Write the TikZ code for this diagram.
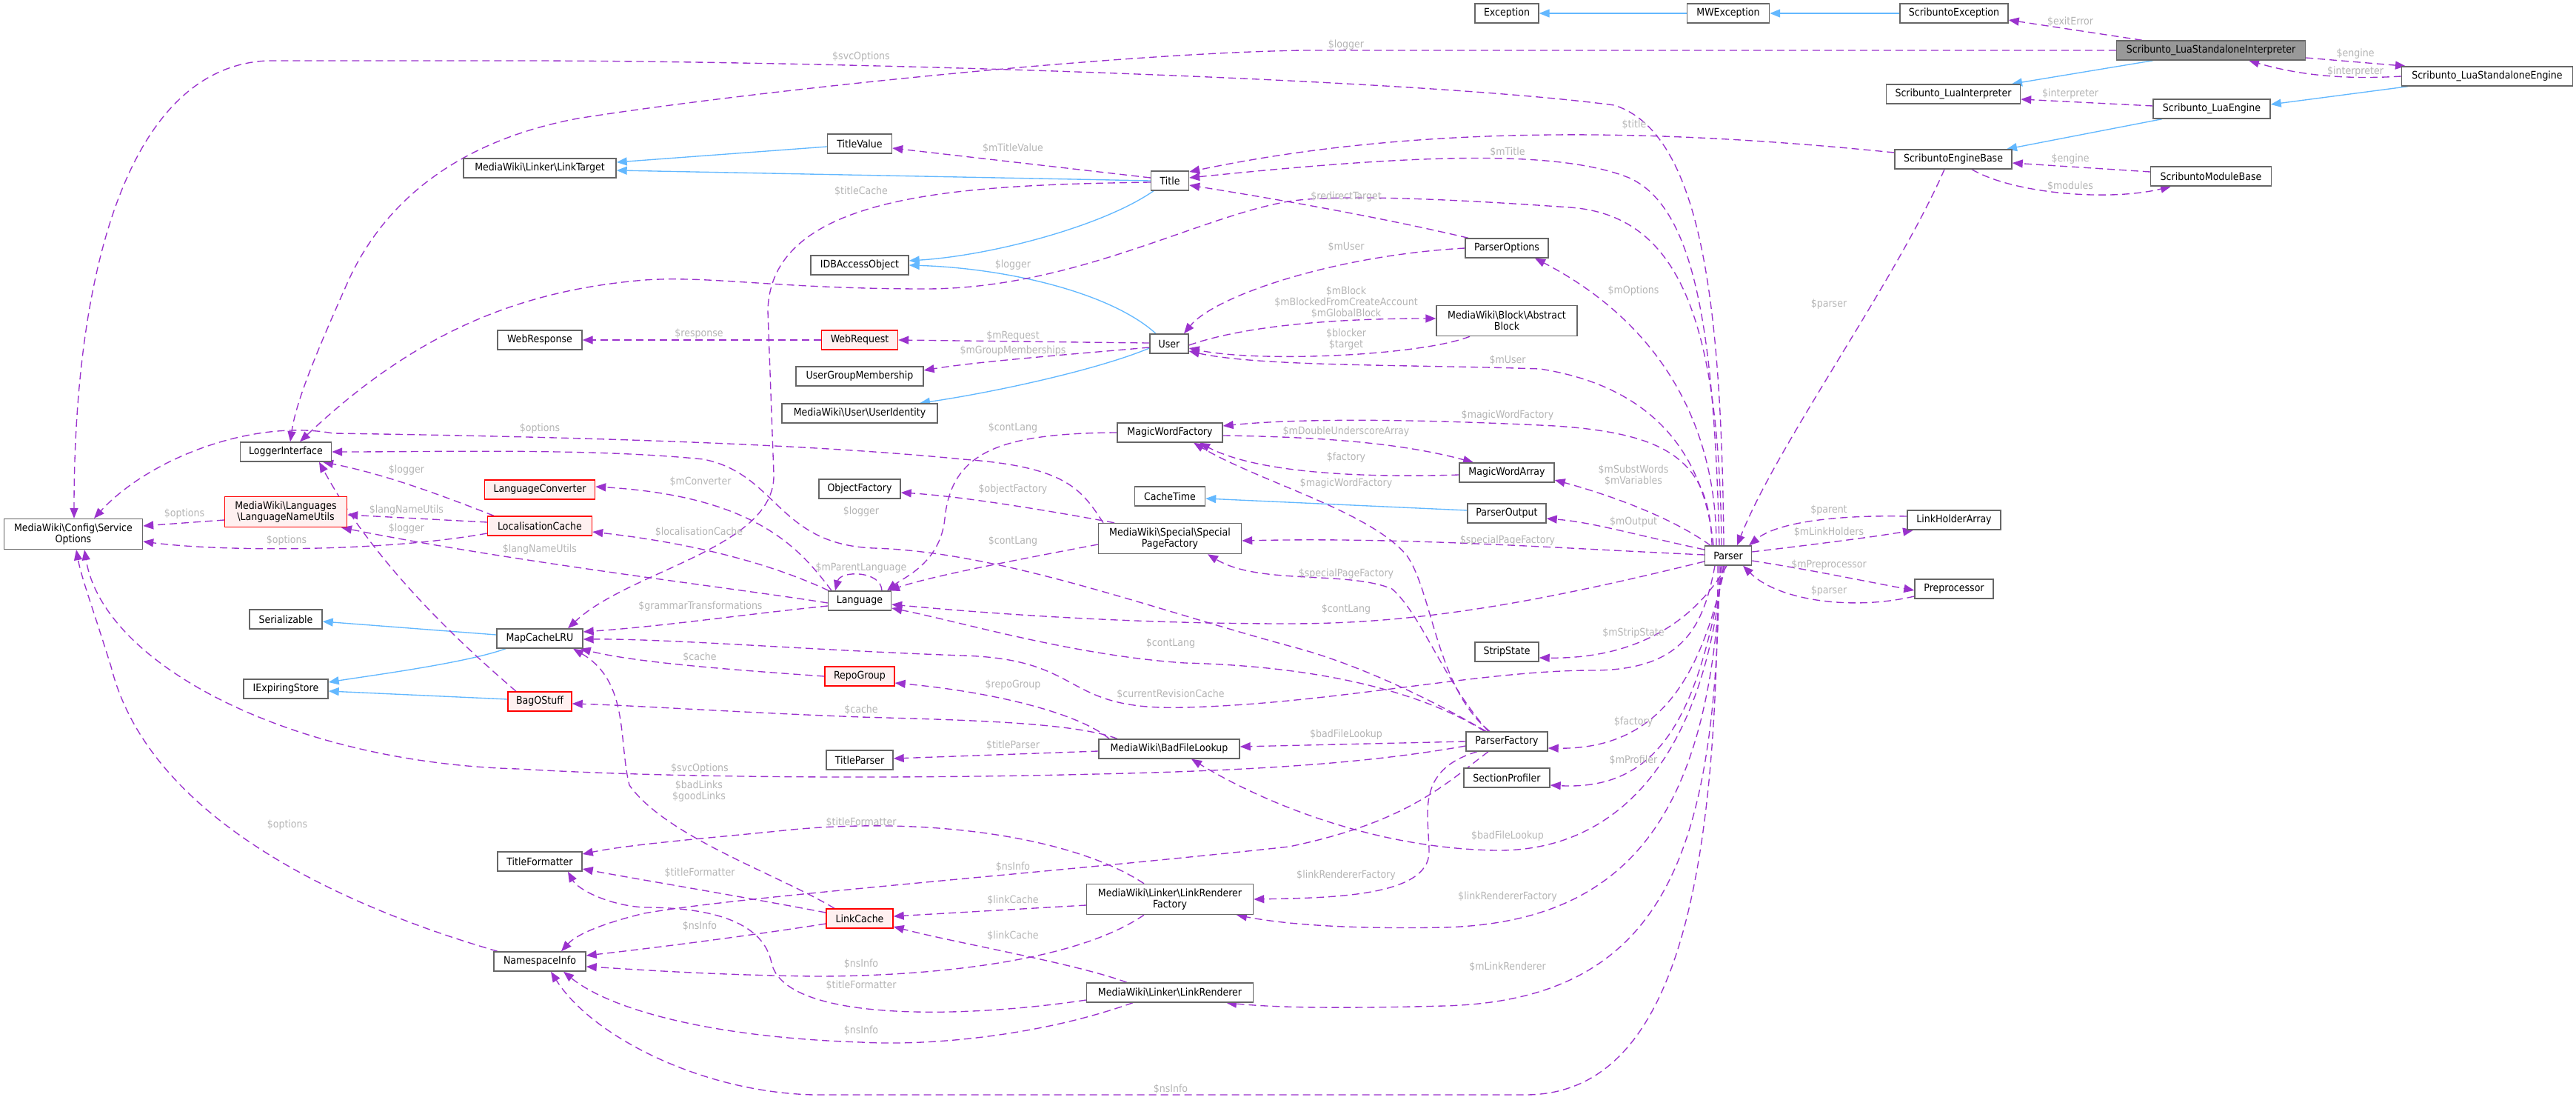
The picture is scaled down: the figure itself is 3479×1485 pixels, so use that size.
\documentclass[tikz,border=0pt]{standalone}
\usepackage{fontspec}
\setmainfont{DejaVu Sans Condensed}
\usetikzlibrary{arrows.meta,backgrounds}
\definecolor{edgepurple}{HTML}{9A32CD}
\definecolor{inhblue}{HTML}{63B8FF}
\definecolor{boxgray}{HTML}{666666}
\definecolor{lblgray}{HTML}{B4B4B4}
\definecolor{redfill}{HTML}{FFF0F0}
\definecolor{rootfill}{HTML}{999999}
\newcommand\dfont{\fontsize{14}{15}\selectfont}
\tikzset{
 cls/.style={draw=boxgray, line width=1.4pt, fill=white, inner sep=0pt, minimum height=26pt, align=center, font=\dfont},
 cls2/.style={cls, minimum height=41pt},
 redcls/.style={cls, draw=red, fill=redfill},
 rootcls/.style={cls, fill=rootfill},
 uses/.style={draw=edgepurple, line width=1.35pt, dash pattern=on 10pt off 6pt, -{Triangle[length=14pt,width=11pt]}},
 inh/.style={draw=inhblue, line width=1.35pt, -{Triangle[length=14pt,width=11pt]}},
 lbl/.style={text=lblgray, font=\dfont, inner sep=0pt, align=center}
}
\begin{document}
\begin{tikzpicture}[x=1pt,y=-1pt]
\useasboundingbox (0,0) rectangle (3479,1485);
% ---------- nodes ----------
\node[cls, minimum width=86pt] (exc) at (2035,18) {Exception};
\node[cls, minimum width=111pt] (mwexc) at (2334,18) {MWException};
\node[cls, minimum width=146pt] (screxc) at (2639,18) {ScribuntoException};
\node[rootcls, minimum width=255pt] (lsi) at (2986,68) {Scribunto\_LuaStandaloneInterpreter};
\node[cls, minimum width=181pt] (luaint) at (2638,127) {Scribunto\_LuaInterpreter};
\node[cls, minimum width=231pt] (lse) at (3359,103) {Scribunto\_LuaStandaloneEngine};
\node[cls, minimum width=158pt] (luaeng) at (2987,147) {Scribunto\_LuaEngine};
\node[cls, minimum width=158pt] (engbase) at (2638,215) {ScribuntoEngineBase};
\node[cls, minimum width=163pt] (modbase) at (2986,238) {ScribuntoModuleBase};
\node[cls, minimum width=206pt] (linktarget) at (729,227) {MediaWiki\textbackslash Linker\textbackslash LinkTarget};
\node[cls, minimum width=87pt] (titlevalue) at (1161,194) {TitleValue};
\node[cls, minimum width=51pt] (title) at (1580,244) {Title};
\node[cls, minimum width=132pt] (idb) at (1161,358) {IDBAccessObject};
\node[cls, minimum width=114pt] (webresp) at (729,459) {WebResponse};
\node[redcls, minimum width=103pt] (webreq) at (1161,459) {WebRequest};
\node[cls, minimum width=52pt] (user) at (1579,464) {User};
\node[cls, minimum width=112pt] (parseropts) at (2035,335) {ParserOptions};
\node[cls2, minimum width=190pt] (block) at (2035,433) {MediaWiki\textbackslash Block\textbackslash Abstract\\Block};
\node[cls, minimum width=172pt] (ugm) at (1161,508) {UserGroupMembership};
\node[cls, minimum width=210pt] (uid) at (1161,558) {MediaWiki\textbackslash User\textbackslash UserIdentity};
\node[cls, minimum width=123pt] (logger) at (386,610) {LoggerInterface};
\node[redcls, minimum width=149pt] (langconv) at (729,661) {LanguageConverter};
\node[redcls, minimum height=41pt, minimum width=165pt] (lnu) at (386,691) {MediaWiki\textbackslash Languages\\\textbackslash LanguageNameUtils};
\node[cls2, minimum width=187pt] (svcopts) at (99,721) {MediaWiki\textbackslash Config\textbackslash Service\\Options};
\node[redcls, minimum width=141pt] (lc) at (729,710) {LocalisationCache};
\node[cls, minimum width=142pt] (mwf) at (1580,584) {MagicWordFactory};
\node[cls, minimum width=110pt] (objf) at (1161,660) {ObjectFactory};
\node[cls, minimum width=95pt] (cachetime) at (1580,670) {CacheTime};
\node[cls2, minimum width=193pt] (spf) at (1580,727) {MediaWiki\textbackslash Special\textbackslash Special\\PageFactory};
\node[cls, minimum width=128pt] (mwa) at (2035,638) {MagicWordArray};
\node[cls, minimum width=106pt] (pout) at (2035,693) {ParserOutput};
\node[cls, minimum width=63pt] (parser) at (2334,750) {Parser};
\node[cls, minimum width=126pt] (lha) at (2639,702) {LinkHolderArray};
\node[cls, minimum width=106pt] (prep) at (2639,795) {Preprocessor};
\node[cls, minimum width=98pt] (serial) at (386,836) {Serializable};
\node[cls, minimum width=116pt] (mapcache) at (729,862) {MapCacheLRU};
\node[cls, minimum width=85pt] (lang) at (1161,811) {Language};
\node[cls, minimum width=86pt] (strip) at (2035,880) {StripState};
\node[redcls, minimum width=94pt] (repo) at (1161,913) {RepoGroup};
\node[cls, minimum width=114pt] (iexp) at (386,930) {IExpiringStore};
\node[redcls, minimum width=86pt] (bag) at (729,947) {BagOStuff};
\node[cls, minimum width=110pt] (pfac) at (2035,1001) {ParserFactory};
\node[cls, minimum width=190pt] (bfl) at (1579,1011) {MediaWiki\textbackslash BadFileLookup};
\node[cls, minimum width=90pt] (tparser) at (1161,1026) {TitleParser};
\node[cls, minimum width=116pt] (secprof) at (2035,1050) {SectionProfiler};
\node[cls, minimum width=114pt] (tfmt) at (729,1163) {TitleFormatter};
\node[cls2, minimum width=225pt] (lrf) at (1580,1214) {MediaWiki\textbackslash Linker\textbackslash LinkRenderer\\Factory};
\node[redcls, minimum width=90pt] (lcache) at (1161,1240) {LinkCache};
\node[cls, minimum width=124pt] (nsinfo) at (729,1298) {NamespaceInfo};
\node[cls, minimum width=225pt] (lr) at (1580,1340) {MediaWiki\textbackslash Linker\textbackslash LinkRenderer};
% ---------- edges ----------
\begin{pgfonlayer}{background}
% inheritance
\draw[inh] (mwexc.west) -- (exc.east);
\draw[inh] (screxc.west) -- (mwexc.east);
\draw[inh] ([xshift=-78pt]lsi.south) -- ([xshift=79pt]luaint.north);
\draw[inh] ([xshift=-107pt]lse.south) -- ([yshift=6pt]luaeng.east);
\draw[inh] ([xshift=-67pt]luaeng.south) -- ([xshift=72pt]engbase.north);
\draw[inh] ([yshift=-4pt]titlevalue.west) -- ([yshift=8pt]linktarget.east);
\draw[inh] (title.west) -- ([yshift=-3pt]linktarget.east);
\draw[inh] ([xshift=-22pt]title.south) .. controls (1490,305) and (1340,345) .. ([yshift=6pt]idb.east);
\draw[inh] ([xshift=-18pt]user.north) .. controls (1500,395) and (1360,362) .. (idb.east);
\draw[inh] ([yshift=-6pt]user.west) .. controls (1480,500) and (1340,530) .. ([xshift=81pt]uid.north);
\draw[inh] ([yshift=4pt]pout.west) -- ([yshift=-3pt]cachetime.east);
\draw[inh] ([yshift=5pt]mapcache.west) -- ([yshift=-3pt]serial.east);
\draw[inh] ([xshift=-46pt]mapcache.south) .. controls (630,895) and (500,912) .. ([yshift=9pt]iexp.east);
\draw[inh] ([yshift=3pt]bag.west) -- ([yshift=-3pt]iexp.east);
% usage
\draw[uses] ([xshift=-93pt]lsi.north) -- ([yshift=-9pt]screxc.east);
\draw[uses] (lsi.west) -- (1760,68) .. controls (1500,72) and (1000,125) .. (780,160) .. controls (620,190) and (520,270) .. (470,380) .. controls (430,470) and (400,540) .. ([xshift=6pt]logger.north);
\draw[uses] ([xshift=-6pt]parser.north) .. controls (2325,420) and (2300,180) .. (2180,142) .. controls (1900,105) and (1100,82) .. (700,82) -- (361,82) .. controls (180,90) and (100,350) .. ([xshift=1pt]svcopts.north);
\draw[uses] ([yshift=4pt]title.west) -- ([yshift=-6pt]titlevalue.east);
\draw[uses] ([yshift=-2pt]title.west) .. controls (1300,250) and (1040,260) .. (1037,420) -- (1045,640) .. controls (1048,740) and (850,770) .. ([xshift=38pt]mapcache.north);
\draw[uses] ([xshift=-9pt]parser.north) .. controls (2322,420) and (2262,290) .. (2120,280) .. controls (1950,268) and (1800,262) .. (1740,272) .. controls (1620,292) and (1450,390) .. (1250,390) .. controls (1050,390) and (960,372) .. (871,378) .. controls (700,392) and (560,450) .. ([xshift=19pt]logger.north);
\draw[uses] ([yshift=9pt]engbase.west) .. controls (2300,180) and (1950,160) .. ([yshift=12pt]title.east);
\draw[uses] ([xshift=-12pt]parser.north) .. controls (2315,450) and (2290,280) .. (2200,240) .. controls (2100,200) and (1900,210) .. ([yshift=4pt]title.east);
\draw[uses] ([xshift=-52pt]parseropts.north) .. controls (1850,290) and (1700,265) .. ([yshift=-6pt]title.east);
\draw[uses] (parseropts.west) .. controls (1800,345) and (1640,400) .. ([xshift=20pt]user.north);
\draw[uses] ([yshift=-2pt]user.east) .. controls (1680,440) and (1800,430) .. ([yshift=3pt]block.west);
\draw[uses] ([xshift=-50pt]block.south) .. controls (1920,480) and (1700,490) .. ([yshift=-6pt]user.east);
\draw[uses] ([xshift=-20pt]parser.north) .. controls (2300,600) and (2220,520) .. (2080,498) .. controls (1900,492) and (1700,495) .. ([yshift=-10pt]user.east);
\draw[uses] ([yshift=1pt]user.west) .. controls (1450,462) and (1300,460) .. (webreq.east);
\draw[uses] ([yshift=-5pt]user.west) .. controls (1450,478) and (1320,488) .. ([yshift=8pt]ugm.east);
\draw[uses] (webreq.west) -- (webresp.east);
\draw[uses] ([xshift=-16pt]parser.north) .. controls (2318,560) and (2230,430) .. ([xshift=38pt]parseropts.south);
\draw[uses] ([xshift=-12pt]engbase.south) .. controls (2560,380) and (2400,600) .. ([xshift=12pt]parser.north);
\draw[uses] ([yshift=6pt]modbase.west) -- ([yshift=-5pt]engbase.east);
\draw[uses] ([xshift=25pt]engbase.south) .. controls (2720,262) and (2850,272) .. ([xshift=-54pt]modbase.south);
\draw[uses] ([yshift=-10pt]lsi.east) -- ([xshift=-110pt]lse.north);
\draw[uses] (lse.west) .. controls (3160,108) and (3100,100) .. ([xshift=51pt]lsi.south);
\draw[uses] ([yshift=4pt]luaeng.west) -- ([yshift=-7pt]luaint.east);
\draw[uses] ([xshift=-90pt]spf.north) .. controls (1460,660) and (1440,630) .. (1300,620) .. controls (1100,600) and (800,590) .. (450,585) .. controls (340,565) and (200,620) .. ([xshift=28pt]svcopts.north);
\draw[uses] ([xshift=-28pt]pfac.north) .. controls (1960,960) and (1850,900) .. (1741,872) .. controls (1550,820) and (1350,745) .. (1180,740) .. controls (1050,735) and (1050,640) .. (950,620) .. controls (800,605) and (600,610) .. (logger.east);
\draw[uses] ([xshift=-38pt]lang.north) .. controls (1080,740) and (1020,670) .. ([yshift=4pt]langconv.east);
\draw[uses] ([xshift=-42pt]lang.north) .. controls (1050,765) and (950,735) .. ([yshift=-8pt]lc.east);
\draw[uses] ([yshift=-3pt]lang.west) .. controls (1000,795) and (700,760) .. ([xshift=75pt]lnu.south);
\draw[uses] ([yshift=-7pt]lang.west) .. controls (1000,830) and (900,845) .. ([yshift=9pt]mapcache.east);
\draw[uses] ([xshift=-18pt]parser.south) .. controls (2300,850) and (2270,905) .. (2150,905) .. controls (2000,905) and (1800,950) .. (1600,955) .. controls (1430,960) and (1470,890) .. (1300,885) .. controls (1100,878) and (900,862) .. ([yshift=-1pt]mapcache.east);
\draw[uses] (repo.west) .. controls (1000,905) and (860,895) .. ([xshift=-4pt]mapcache.south east);
\draw[uses] ([xshift=-34pt]lcache.north) .. controls (1050,1180) and (900,1130) .. (850,1060) .. controls (835,1000) and (850,920) .. ([xshift=45pt]mapcache.south);
\draw[uses] ([xshift=-70pt]bfl.north) .. controls (1450,975) and (1300,972) .. (1163,968) .. controls (1000,962) and (850,952) .. ([yshift=-3pt]bag.east);
\draw[uses] ([xshift=-81pt]bfl.north) .. controls (1460,965) and (1350,935) .. ([yshift=-9pt]repo.east);
\draw[uses] ([yshift=-3pt]bfl.west) -- ([yshift=2pt]tparser.east);
\draw[uses] ([yshift=-6pt]pfac.west) .. controls (1850,1030) and (1700,1040) .. (1481,1045) .. controls (1200,1052) and (900,1050) .. (700,1038) .. controls (400,1030) and (140,900) .. ([xshift=15pt]svcopts.south);
\draw[uses] ([xshift=-57pt]nsinfo.north) .. controls (450,1220) and (200,1100) .. (150,900) .. controls (125,820) and (110,780) .. ([xshift=4pt]svcopts.south);
\draw[uses] ([xshift=-35pt]lrf.north) .. controls (1450,1130) and (1250,1100) .. (1050,1122) .. controls (950,1132) and (850,1140) .. ([yshift=10pt]tfmt.east);
\draw[uses] ([xshift=-25pt]pfac.south) .. controls (1950,1060) and (1900,1110) .. (1741,1143) .. controls (1400,1180) and (1000,1210) .. (870,1233) .. controls (820,1245) and (780,1260) .. ([xshift=29pt]nsinfo.north);
\draw[uses] ([xshift=-40pt]pfac.south) .. controls (1910,1040) and (1930,1100) .. (1930,1150) .. controls (1930,1210) and (1800,1212) .. (lrf.east);
\draw[uses] ([yshift=8pt]lcache.west) .. controls (1000,1210) and (850,1185) .. ([yshift=-10pt]tfmt.east);
\draw[uses] ([yshift=-8pt]lrf.west) -- ([yshift=3pt]lcache.east);
\draw[uses] ([yshift=-7pt]lcache.west) .. controls (1000,1265) and (880,1280) .. ([yshift=8pt]nsinfo.east);
\draw[uses] ([xshift=-58pt]lr.north) .. controls (1450,1300) and (1300,1275) .. ([yshift=-11pt]lcache.east);
\draw[uses] ([xshift=-35pt]lrf.south) .. controls (1450,1300) and (1250,1318) .. (1100,1318) .. controls (950,1316) and (850,1308) .. ([yshift=-7pt]nsinfo.east);
\draw[uses] ([yshift=-10pt]lr.west) .. controls (1300,1375) and (1060,1380) .. (1042,1300) .. controls (1030,1240) and (950,1225) .. (870,1225) .. controls (820,1222) and (780,1200) .. ([xshift=38pt]tfmt.south);
\draw[uses] ([xshift=-50pt]lr.south) .. controls (1400,1400) and (1250,1412) .. (1163,1407) .. controls (950,1400) and (820,1360) .. ([xshift=32pt]nsinfo.south);
\draw[uses] ([xshift=-14pt]parser.south) .. controls (2320,1200) and (2260,1478) .. (2060,1478) -- (1100,1478) .. controls (950,1475) and (800,1400) .. ([xshift=15pt]nsinfo.south);
\draw[uses] ([xshift=-12pt]parser.south) .. controls (2318,1150) and (2250,1350) .. (1950,1358) .. controls (1800,1362) and (1720,1360) .. ([xshift=76pt]lr.south);
\draw[uses] ([xshift=-10pt]parser.south) .. controls (2310,1100) and (2200,1245) .. (1950,1252) .. controls (1800,1255) and (1720,1245) .. ([xshift=90pt]lrf.south);
\draw[uses] ([xshift=-8pt]parser.south) .. controls (2305,1000) and (2200,1150) .. (2020,1148) .. controls (1850,1145) and (1700,1080) .. ([xshift=30pt]bfl.south);
\draw[uses] ([xshift=-6pt]parser.south) .. controls (2295,950) and (2250,1068) .. ([yshift=-10pt]secprof.east);
\draw[uses] ([xshift=-4pt]parser.south) .. controls (2300,900) and (2250,1012) .. ([yshift=-9pt]pfac.east);
\draw[uses] ([xshift=-2pt]parser.south) .. controls (2300,820) and (2230,890) .. ([yshift=-8pt]strip.east);
\draw[uses] (pfac.west) -- ([yshift=3pt]bfl.east);
\draw[uses] ([yshift=1pt]parser.west) .. controls (2100,740) and (1900,725) .. ([yshift=-3pt]spf.east);
\draw[uses] ([yshift=8pt]parser.west) .. controls (2200,720) and (2150,705) .. ([yshift=-7pt]pout.east);
\draw[uses] ([xshift=-24pt]parser.north) .. controls (2260,700) and (2180,670) .. ([yshift=-10pt]mwa.east);
\draw[uses] ([xshift=-22pt]parser.north) .. controls (2310,620) and (2250,585) .. (2100,575) .. controls (1900,565) and (1750,565) .. ([yshift=9pt]mwf.east);
\draw[uses] ([yshift=-4pt]mwf.east) .. controls (1800,590) and (1900,600) .. ([xshift=-45pt]mwa.north);
\draw[uses] ([yshift=-3pt]mwa.west) .. controls (1850,645) and (1700,640) .. ([xshift=40pt]mwf.south);
\draw[uses] ([xshift=-23pt]pfac.north) .. controls (1940,930) and (1935,800) .. (1900,750) .. controls (1850,690) and (1700,650) .. ([xshift=32pt]mwf.south);
\draw[uses] ([xshift=-25pt]pfac.north) .. controls (1950,920) and (1920,830) .. (1880,795) .. controls (1820,770) and (1700,790) .. ([xshift=51pt]spf.south);
\draw[uses] ([xshift=-30pt]pfac.north) .. controls (1930,940) and (1800,900) .. (1600,895) .. controls (1450,885) and (1300,840) .. ([yshift=-10pt]lang.east);
\draw[uses] ([yshift=-8pt]parser.west) .. controls (2050,820) and (1900,842) .. (1740,842) .. controls (1500,842) and (1300,825) .. ([yshift=-5pt]lang.east);
\draw[uses] (mwf.west) .. controls (1350,585) and (1285,610) .. (1276,700) .. controls (1270,760) and (1220,780) .. ([xshift=37pt]lang.north);
\draw[uses] ([yshift=-8pt]spf.west) .. controls (1350,760) and (1250,780) .. ([xshift=40pt]lang.north);
\draw[uses] ([xshift=-75pt]spf.north) .. controls (1420,690) and (1300,670) .. ([yshift=-5pt]objf.east);
\draw[uses] ([xshift=30pt]lang.north) .. controls (1190,770) and (1135,770) .. ([xshift=-33pt]lang.north);
\draw[uses] ([xshift=-62pt]lc.north) .. controls (600,670) and (520,640) .. ([xshift=50pt]logger.south);
\draw[uses] ([yshift=5pt]lc.west) -- ([yshift=-4pt]lnu.east);
\draw[uses] ([yshift=-10pt]lc.west) .. controls (520,745) and (300,745) .. ([yshift=-10pt]svcopts.east);
\draw[uses] ([yshift=-11pt]lnu.west) -- ([yshift=11pt]svcopts.east);
\draw[uses] ([xshift=-32pt]bag.north) .. controls (600,850) and (500,750) .. ([xshift=45pt]logger.south);
\draw[uses] ([yshift=5pt]lha.west) .. controls (2480,695) and (2400,705) .. ([xshift=28pt]parser.north);
\draw[uses] ([yshift=5pt]parser.east) .. controls (2450,735) and (2530,725) .. ([xshift=-55pt]lha.south);
\draw[uses] ([yshift=-7pt]parser.east) .. controls (2450,770) and (2520,785) .. ([yshift=-2pt]prep.west);
\draw[uses] ([yshift=-10pt]prep.west) .. controls (2500,825) and (2400,810) .. ([xshift=20pt]parser.south);
\end{pgfonlayer}
% ---------- labels ----------
\node[lbl] (l1) at (2796,29) {\$exitError};
\node[lbl] (l2) at (1818,61) {\$logger};
\node[lbl] (l3) at (1163,77) {\$svcOptions};
\node[lbl] (l4) at (3181,73) {\$engine};
\node[lbl] (l5) at (3181,97) {\$interpreter};
\node[lbl] (l6) at (2796,127) {\$interpreter};
\node[lbl] (l7) at (2207,168) {\$title};
\node[lbl] (l8) at (1368,200) {\$mTitleValue};
\node[lbl] (l9) at (2036,205) {\$mTitle};
\node[lbl] (l10) at (2796,215) {\$engine};
\node[lbl] (l11) at (2796,251) {\$modules};
\node[lbl] (l12) at (1163,258) {\$titleCache};
\node[lbl] (l13) at (1818,266) {\$redirectTarget};
\node[lbl] (l14) at (1818,333) {\$mUser};
\node[lbl] (l15) at (1368,358) {\$logger};
\node[lbl] (l16) at (2206,393) {\$mOptions};
\node[lbl] (l17) at (1818,408) {\$mBlock\\\$mBlockedFromCreateAccount\\\$mGlobalBlock};
\node[lbl] (l18) at (2470,411) {\$parser};
\node[lbl] (l19) at (944,451) {\$response};
\node[lbl] (l20) at (1368,454) {\$mRequest};
\node[lbl] (l21) at (1818,458) {\$blocker\\\$target};
\node[lbl] (l22) at (1368,474) {\$mGroupMemberships};
\node[lbl] (l23) at (2036,486) {\$mUser};
\node[lbl] (l24) at (2036,561) {\$magicWordFactory};
\node[lbl] (l25) at (729,579) {\$options};
\node[lbl] (l26) at (1368,578) {\$contLang};
\node[lbl] (l27) at (1818,583) {\$mDoubleUnderscoreArray};
\node[lbl] (l28) at (1818,618) {\$factory};
\node[lbl] (l29) at (549,635) {\$logger};
\node[lbl] (l30) at (2206,642) {\$mSubstWords\\\$mVariables};
\node[lbl] (l31) at (946,650) {\$mConverter};
\node[lbl] (l32) at (1818,653) {\$magicWordFactory};
\node[lbl] (l33) at (1368,661) {\$objectFactory};
\node[lbl] (l34) at (2470,689) {\$parent};
\node[lbl] (l35) at (549,689) {\$langNameUtils};
\node[lbl] (l36) at (1163,691) {\$logger};
\node[lbl] (l37) at (249,694) {\$options};
\node[lbl] (l38) at (2206,705) {\$mOutput};
\node[lbl] (l39) at (549,714) {\$logger};
\node[lbl] (l40) at (944,718) {\$localisationCache};
\node[lbl] (l41) at (2470,718) {\$mLinkHolders};
\node[lbl] (l42) at (387,730) {\$options};
\node[lbl] (l43) at (2036,730) {\$specialPageFactory};
\node[lbl] (l44) at (1368,731) {\$contLang};
\node[lbl] (l45) at (729,742) {\$langNameUtils};
\node[lbl] (l46) at (2470,763) {\$mPreprocessor};
\node[lbl] (l47) at (1163,767) {\$mParentLanguage};
\node[lbl] (l48) at (1818,775) {\$specialPageFactory};
\node[lbl] (l49) at (2470,798) {\$parser};
\node[lbl] (l50) at (946,819) {\$grammarTransformations};
\node[lbl] (l51) at (1818,823) {\$contLang};
\node[lbl] (l52) at (2206,855) {\$mStripState};
\node[lbl] (l53) at (1581,869) {\$contLang};
\node[lbl] (l54) at (945,887) {\$cache};
\node[lbl] (l55) at (1368,925) {\$repoGroup};
\node[lbl] (l56) at (1581,937) {\$currentRevisionCache};
\node[lbl] (l57) at (1163,958) {\$cache};
\node[lbl] (l58) at (2206,975) {\$factory};
\node[lbl] (l59) at (1818,992) {\$badFileLookup};
\node[lbl] (l60) at (1368,1006) {\$titleParser};
\node[lbl] (l61) at (2206,1026) {\$mProfiler};
\node[lbl] (l62) at (945,1038) {\$svcOptions};
\node[lbl] (l63) at (944,1068) {\$badLinks\\\$goodLinks};
\node[lbl] (l64) at (1163,1110) {\$titleFormatter};
\node[lbl] (l65) at (388,1114) {\$options};
\node[lbl] (l66) at (2036,1129) {\$badFileLookup};
\node[lbl] (l67) at (1368,1170) {\$nsInfo};
\node[lbl] (l68) at (945,1178) {\$titleFormatter};
\node[lbl] (l69) at (1818,1182) {\$linkRendererFactory};
\node[lbl] (l70) at (2036,1211) {\$linkRendererFactory};
\node[lbl] (l71) at (1368,1215) {\$linkCache};
\node[lbl] (l72) at (945,1250) {\$nsInfo};
\node[lbl] (l73) at (1368,1263) {\$linkCache};
\node[lbl] (l74) at (1163,1301) {\$nsInfo};
\node[lbl] (l75) at (2036,1305) {\$mLinkRenderer};
\node[lbl] (l76) at (1163,1330) {\$titleFormatter};
\node[lbl] (l77) at (1163,1391) {\$nsInfo};
\node[lbl] (l78) at (1581,1470) {\$nsInfo};
\end{tikzpicture}
\end{document}
